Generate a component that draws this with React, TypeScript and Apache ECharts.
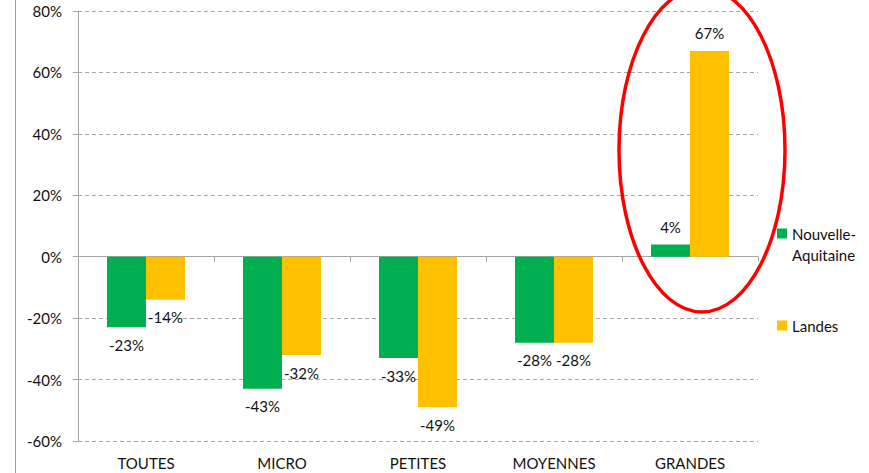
import React, { useEffect, useRef } from "react";
import * as echarts from "echarts";

const categories = ["TOUTES", "MICRO", "PETITES", "MOYENNES", "GRANDES"];
const nouvelleAquitaine = [-23, -43, -33, -28, 4];
const landes = [-14, -32, -49, -28, 67];
const seriesNames = ["Nouvelle-Aquitaine", "Landes"];
const yTicks = { min: -60, max: 80, interval: 20 };

const FONT = "Lato";
const GRID_COLOR = "#A6A6A6";
const TEXT_COLOR = "#111111";
const FS = 15;

export default function App() {
  const ref = useRef<HTMLDivElement>(null);
  useEffect(() => {
    if (!ref.current) return;
    const chart = echarts.init(ref.current, null, { renderer: "svg" });
    const label = {
      show: true,
      position: "outside",
      distance: 10,
      formatter: "{c}%",
      color: TEXT_COLOR,
      fontFamily: FONT,
      fontSize: FS,
    };
    chart.setOption({
      animation: false,
      backgroundColor: "#fff",
      textStyle: { fontFamily: FONT },
      grid: { left: 78, right: 111, top: 11, bottom: 32, containLabel: false },
      legend: [
        {
          data: [seriesNames[0]],
          orient: "vertical",
          left: 777,
          top: 202,
          padding: 0,
          itemWidth: 10,
          itemHeight: 10,
          itemGap: 0,
          icon: "rect",
          formatter: () => "\nNouvelle-\nAquitaine",
          textStyle: {
            color: TEXT_COLOR,
            fontFamily: FONT,
            fontSize: FS,
            lineHeight: 21,
          },
        },
        {
          data: [seriesNames[1]],
          orient: "vertical",
          left: 777,
          top: 318,
          padding: 0,
          itemWidth: 10,
          itemHeight: 10,
          icon: "rect",
          textStyle: { color: TEXT_COLOR, fontFamily: FONT, fontSize: FS },
        },
      ],
      xAxis: [
        {
          type: "category",
          data: categories,
          position: "bottom",
          axisLine: { onZero: true, lineStyle: { color: GRID_COLOR, width: 1 } },
          axisTick: { show: true, length: 5, lineStyle: { color: GRID_COLOR } },
          axisLabel: { show: false },
          splitLine: { show: false },
        },
        {
          type: "category",
          data: categories,
          position: "bottom",
          axisLine: { show: false, onZero: false },
          axisTick: { show: false },
          axisLabel: { margin: 14, color: TEXT_COLOR, fontFamily: FONT, fontSize: FS },
          splitLine: { show: false },
        },
      ],
      yAxis: {
        type: "value",
        min: yTicks.min,
        max: yTicks.max,
        interval: yTicks.interval,
        axisLine: { show: true, lineStyle: { color: GRID_COLOR } },
        axisTick: { show: true, length: 5, lineStyle: { color: GRID_COLOR } },
        axisLabel: {
          formatter: "{value}%",
          margin: 16,
          color: TEXT_COLOR,
          fontFamily: FONT,
          fontSize: FS,
        },
        splitLine: { show: true, lineStyle: { color: GRID_COLOR, type: [4, 3] } },
      },
      series: [
        {
          name: seriesNames[0],
          type: "bar",
          xAxisIndex: 0,
          data: nouvelleAquitaine,
          barWidth: 39,
          barGap: "0%",
          itemStyle: { color: "#00B050" },
          label,
        },
        {
          name: seriesNames[1],
          type: "bar",
          xAxisIndex: 0,
          data: landes,
          barWidth: 39,
          barGap: "0%",
          itemStyle: { color: "#FFC000" },
          label,
        },
      ],
      graphic: [
        {
          type: "line",
          shape: { x1: 15.5, y1: 0, x2: 15.5, y2: 473 },
          style: { stroke: "#A0A0A0", lineWidth: 1 },
          silent: true,
        },
        {
          type: "ellipse",
          shape: { cx: 702, cy: 150, rx: 83, ry: 162 },
          style: { fill: "none", stroke: "#FF0000", lineWidth: 3.5 },
          silent: true,
          z: 100,
        },
      ],
    });
    return () => chart.dispose();
  }, []);
  return (
    <div
      ref={ref}
      style={{ position: "fixed", left: 0, top: 0, width: 869, height: 473 }}
    />
  );
}
